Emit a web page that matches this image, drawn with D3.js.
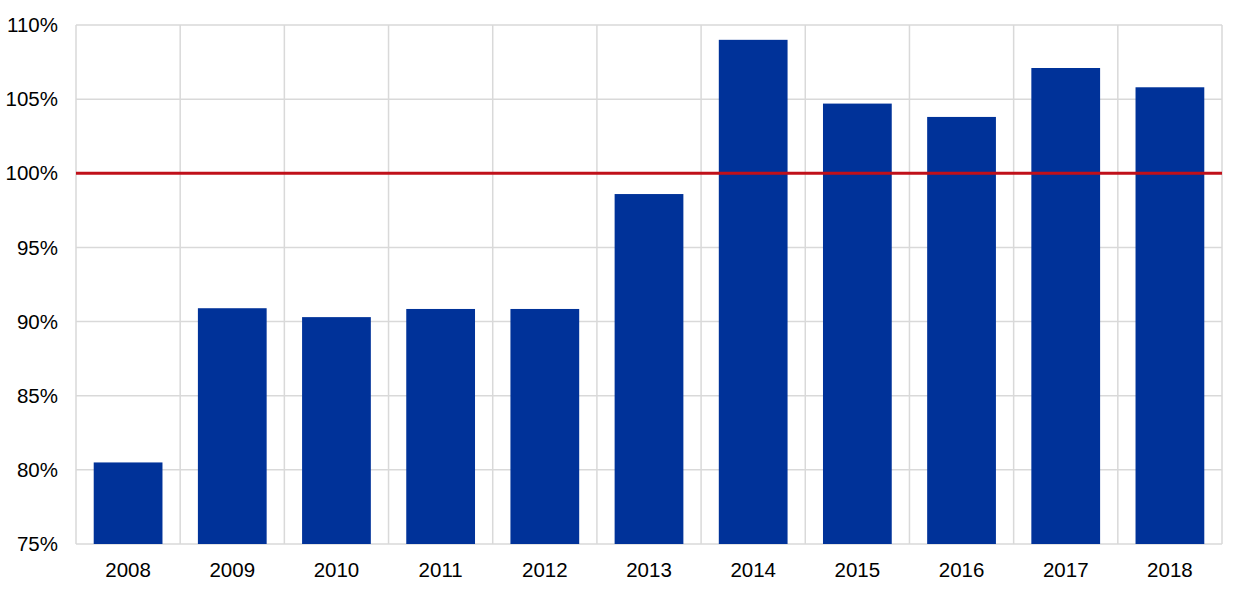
<!DOCTYPE html>
<html><head><meta charset="utf-8">
<script src="https://cdn.jsdelivr.net/npm/d3@7"></script>
<style>body{margin:0;background:#fff}svg{display:block}text{font-family:"Liberation Sans",Arial,sans-serif}</style>
</head><body>
<svg id="c" width="1240" height="590"></svg>
<script>
const years = ["2008","2009","2010","2011","2012","2013","2014","2015","2016","2017","2018"];
const values = [80.5, 90.9, 90.3, 90.85, 90.85, 98.6, 109.0, 104.7, 103.8, 107.1, 105.8];
const yTicks = [75, 80, 85, 90, 95, 100, 105, 110];
const refValue = 100;

const svg = d3.select("#c");
const L = 76, R = 1222, T = 25, B = 544;
const x = d3.scaleBand().domain(years).range([L, R]).paddingInner(0.34).paddingOuter(0.17);
const y = d3.scaleLinear().domain([75, 110]).range([B, T]);
const grid = "#d9d9d9";

// horizontal gridlines
svg.append("g").selectAll("line").data(yTicks).join("line")
  .attr("x1", L).attr("x2", R).attr("y1", d => y(d)).attr("y2", d => y(d))
  .attr("stroke", grid).attr("stroke-width", 1.5);
// vertical gridlines at category boundaries
const vx = years.map(d => x(d) - x.step() * x.paddingInner() / 2 - (d === years[0] ? x.step() * (x.paddingOuter() - x.paddingInner() / 2) : 0)).concat([R]);
svg.append("g").selectAll("line").data(vx).join("line")
  .attr("x1", d => d).attr("x2", d => d).attr("y1", T).attr("y2", B)
  .attr("stroke", grid).attr("stroke-width", 1.5);

// bars
svg.append("g").selectAll("rect").data(values).join("rect")
  .attr("x", (d,i) => x(years[i])).attr("width", x.bandwidth())
  .attr("y", d => y(d)).attr("height", d => B - y(d))
  .attr("fill", "#003299");

// reference line
svg.append("line").attr("x1", L).attr("x2", R).attr("y1", y(refValue)).attr("y2", y(refValue))
  .attr("stroke", "#c0101a").attr("stroke-width", 3);

// y axis labels
svg.append("g").selectAll("text").data(yTicks).join("text")
  .attr("x", 58).attr("y", d => y(d)).attr("dy", "0.35em").attr("text-anchor", "end")
  .attr("font-size", 20.5).attr("fill", "#000").text(d => d + "%");
// x axis labels
svg.append("g").selectAll("text").data(years).join("text")
  .attr("x", d => x(d) + x.bandwidth()/2).attr("y", 577).attr("text-anchor", "middle")
  .attr("font-size", 20.5).attr("fill", "#000").text(d => d);
</script>
</body></html>
